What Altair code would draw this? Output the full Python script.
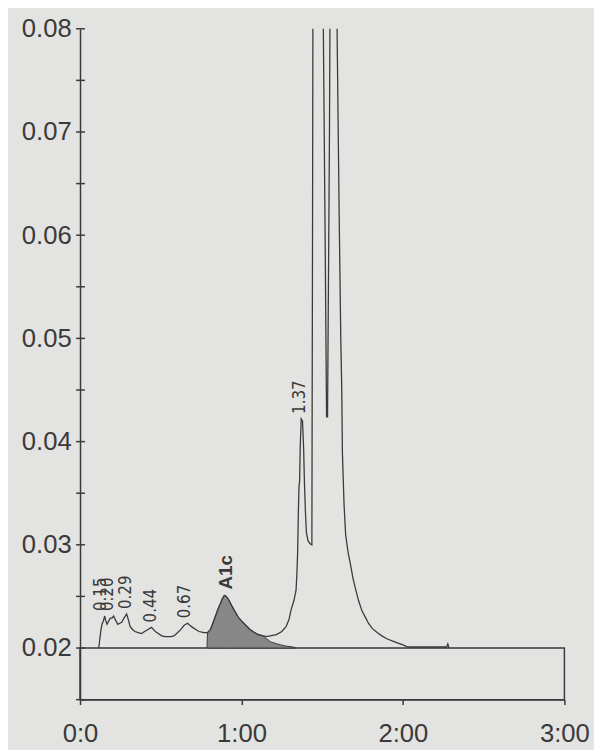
import altair as alt
import pandas as pd

# ---- chromatogram trace (time in minutes, absorbance) ----
trace_t = [0.116, 0.122, 0.130, 0.136, 0.144, 0.153, 0.160, 0.167, 0.177, 0.187,
           0.198, 0.208, 0.220, 0.234, 0.246, 0.258, 0.272, 0.289, 0.300, 0.310,
           0.325, 0.340, 0.360, 0.381, 0.400, 0.421, 0.442, 0.455, 0.466, 0.485,
           0.503, 0.525, 0.544, 0.565, 0.584, 0.605, 0.625, 0.645, 0.666, 0.680,
           0.697, 0.717, 0.737, 0.768, 0.790, 0.808, 0.825, 0.839, 0.855, 0.869,
           0.882, 0.894, 0.907, 0.920, 0.940, 0.961, 0.980, 1.002, 1.027, 1.053,
           1.080, 1.104, 1.130, 1.155, 1.185, 1.216, 1.250, 1.277, 1.295, 1.307,
           1.325, 1.338, 1.344, 1.348, 1.352, 1.356, 1.360, 1.364, 1.370, 1.378,
           1.385, 1.390, 1.396, 1.402, 1.412, 1.425, 1.436, 1.440, 1.444, 1.500,
           1.507, 1.518, 1.527, 1.533, 1.545, 1.552, 1.585, 1.592, 1.605, 1.615,
           1.621, 1.625, 1.635, 1.645, 1.660, 1.675, 1.690, 1.705, 1.725, 1.746,
           1.770, 1.786, 1.810, 1.840, 1.867, 1.900, 1.949, 2.000, 2.030, 2.100,
           2.200, 2.270, 2.278, 2.285]
trace_v = [0.0200, 0.0208, 0.0218, 0.0223, 0.0226, 0.0231, 0.0226, 0.0223, 0.0226, 0.0229,
           0.0229, 0.0231, 0.0227, 0.0223, 0.0224, 0.0225, 0.0229, 0.0233, 0.0227, 0.0221,
           0.0218, 0.0216, 0.0215, 0.0214, 0.0216, 0.0218, 0.0220, 0.0218, 0.0216, 0.0214,
           0.0212, 0.0211, 0.0211, 0.0211, 0.0212, 0.0215, 0.0218, 0.0222, 0.0224, 0.0222,
           0.0220, 0.0218, 0.0216, 0.0215, 0.0215, 0.0218, 0.0225, 0.0231, 0.0238, 0.0243,
           0.0248, 0.0251, 0.0250, 0.0247, 0.0241, 0.0235, 0.0230, 0.0226, 0.0222, 0.0218,
           0.0215, 0.0213, 0.0212, 0.0211, 0.0212, 0.0213, 0.0216, 0.0221, 0.0228, 0.0237,
           0.0246, 0.0256, 0.0275, 0.0294, 0.0330, 0.0355, 0.0362, 0.0395, 0.0422, 0.0420,
           0.0393, 0.0360, 0.0332, 0.0312, 0.0304, 0.0301, 0.0300, 0.0600, 0.0950, 0.0950,
           0.0800, 0.0600, 0.0424, 0.0424, 0.0700, 0.0950, 0.0950, 0.0800, 0.0620, 0.0500,
           0.0450, 0.0390, 0.0340, 0.0310, 0.0293, 0.0281, 0.0268, 0.0258, 0.0246, 0.0236,
           0.0229, 0.0224, 0.0219, 0.0215, 0.0212, 0.0209, 0.0206, 0.0203, 0.0201, 0.0201,
           0.0201, 0.0201, 0.0204, 0.0200]

# ---- shaded A1c peak ----
a1c_t = [0.786, 0.790, 0.808, 0.825, 0.839, 0.855, 0.869, 0.882, 0.894, 0.907,
         0.920, 0.940, 0.961, 0.980, 1.002, 1.027, 1.053, 1.080, 1.104, 1.130,
         1.155, 1.180, 1.220, 1.270, 1.320, 1.340]
a1c_v = [0.0200, 0.0215, 0.0218, 0.0225, 0.0231, 0.0238, 0.0243, 0.0248, 0.0251, 0.0250,
         0.0247, 0.0241, 0.0235, 0.0230, 0.0226, 0.0222, 0.0218, 0.0215, 0.0213, 0.0212,
         0.0209, 0.0206, 0.0204, 0.0202, 0.0201, 0.0200]

# ---- peak annotations ----
peak_labels = ["0.15", "0.20", "0.29", "0.44", "0.67", "1.37"]
peak_t = [0.13, 0.175, 0.287, 0.44, 0.65, 1.36]
peak_v = [0.0231, 0.0231, 0.0233, 0.0220, 0.0224, 0.0422]
main_label = ["A1c"]
main_t = [0.905]
main_v = [0.0251]

# ---- axes / frame ----
x_tick_values = [0, 1, 2, 3]
y_label_values = [0.02, 0.03, 0.04, 0.05, 0.06, 0.07, 0.08]
y_tick_values = [0.015, 0.02, 0.025, 0.03, 0.035, 0.04, 0.045, 0.05,
                 0.055, 0.06, 0.065, 0.07, 0.075, 0.08]
box_t = [0, 3]
box_v = [0.015, 0.02]

INK = "#3a3a3a"
BG = "#e3e3e1"
FONT = "Liberation Sans"
NARROW = "Liberation Sans Narrow, DejaVu Sans Condensed, Liberation Sans"

trace_df = pd.DataFrame({"t": trace_t, "v": trace_v, "i": list(range(len(trace_t)))})
a1c_df = pd.DataFrame({"t": a1c_t, "v": a1c_v})
lab_df = pd.DataFrame({"t": peak_t, "v": peak_v, "label": peak_labels})
main_df = pd.DataFrame({"t": main_t, "v": main_v, "label": main_label})
tick_df = pd.DataFrame({"v": y_tick_values})
box_df = pd.DataFrame({"t0": [box_t[0]], "t1": [box_t[1]], "v0": [box_v[0]], "v1": [box_v[1]]})

x_scale = alt.Scale(domain=[0, 3], nice=False, zero=False)
y_scale = alt.Scale(domain=[0.015, 0.08], nice=False, zero=False)

x_axis = alt.Axis(values=x_tick_values,
                  labelExpr="datum.value == 0 ? '0:0' : datum.value + ':00'",
                  title=None, grid=False, labelFont=FONT, labelFontSize=26,
                  labelColor=INK, tickColor=INK, tickSize=5, tickWidth=1.5,
                  domainColor=INK, domainWidth=1.5, labelPadding=16,
                  labelFlush=False, labelOverlap=False, labelBound=False)
y_axis = alt.Axis(values=y_label_values, format=".2f", title=None, grid=False,
                  ticks=False, labelFont=FONT, labelFontSize=26, labelColor=INK,
                  domainColor=INK, domainWidth=1.5, labelPadding=9,
                  labelOverlap=False, labelBound=False, labelFlush=False)


def X(field):
    return alt.X(field, type="quantitative", scale=x_scale, axis=x_axis)


def Y(field):
    return alt.Y(field, type="quantitative", scale=y_scale, axis=y_axis)


box = alt.Chart(box_df).mark_rect(fillOpacity=0, stroke=INK, strokeWidth=1.5).encode(
    x=X("t0"), x2="t1", y=Y("v0"), y2="v1")

area = alt.Chart(a1c_df).mark_area(color="#878787", stroke=INK, strokeWidth=1).encode(
    x=X("t"), y=Y("v"), y2=alt.datum(box_v[1]))

line = alt.Chart(trace_df).mark_line(color=INK, strokeWidth=1.3, clip=True).encode(
    x=X("t"), y=Y("v"), order=alt.Order("i:Q"))

ticks = alt.Chart(tick_df).mark_rule(color=INK, strokeWidth=1.5).encode(
    x=alt.value(-4), x2=alt.value(5), y=Y("v"))

labels = alt.Chart(lab_df).mark_text(angle=270, align="left", baseline="middle",
                                     dx=5, font=NARROW, fontSize=17, color=INK).encode(
    x=X("t"), y=Y("v"), text="label:N")

main = alt.Chart(main_df).mark_text(angle=270, align="left", baseline="middle",
                                    dx=6, font=FONT, fontSize=19, fontWeight="bold",
                                    color=INK).encode(
    x=X("t"), y=Y("v"), text="label:N")

chart = alt.layer(box, area, line, ticks, labels, main).properties(
    width=491, height=680, background=BG,
    padding={"left": 73, "top": 16, "right": 30, "bottom": 46},
    autosize=alt.AutoSizeParams(type="none"),
).configure_view(stroke=None)

chart.save("out.html", embed_options={"renderer": "svg", "actions": False})
